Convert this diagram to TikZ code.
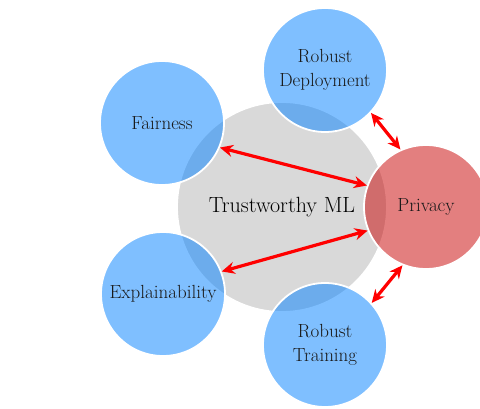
\documentclass[tikz,border=0pt]{standalone}
\usepackage{fontspec}
\usetikzlibrary{arrows.meta}

\tikzset{
  tema/.style={circle, draw=white, line width=1.8pt, minimum size=124pt,
    fill opacity=0.5, text opacity=1, text=black!90, align=center,
    font=\fontsize{19}{24}\selectfont},
  azul/.style={tema, fill={rgb,255:red,0;green,128;blue,255}},
  rojo/.style={tema, fill={rgb,255:red,200;green,0;blue,0}},
  flecha/.style={<->, >={Stealth[length=13pt,width=12pt]}, line width=3.2pt, red}
}

\begin{document}
\begin{tikzpicture}[x=1pt, y=1pt]
    \useasboundingbox (0,0) rectangle (480,408);

    % Centro
    \node[circle, draw=white, line width=1.8pt, fill=black!15, minimum size=210pt,
      font=\fontsize{22}{26}\selectfont] (tml) at (282,201) {Trustworthy ML};

    % Temas
    \node[azul] (fair) at (162,285) {Fairness};
    \node[azul] (expl) at (163,114) {Explainability};
    \node[azul] (dep) at (325,338) {Robust\\Deployment};
    \node[azul] (train) at (325,63) {Robust\\Training};
    \node[rojo] (priv) at (426,201) {Privacy};

    % Flechas
    \draw[flecha] (fair.-23) -- (priv.160);
    \draw[flecha] (expl.21) -- (priv.-158);
    \draw[flecha] (dep.-43) -- (priv.114);
    \draw[flecha] (train.42) -- (priv.-112);

\end{tikzpicture}
\end{document}
